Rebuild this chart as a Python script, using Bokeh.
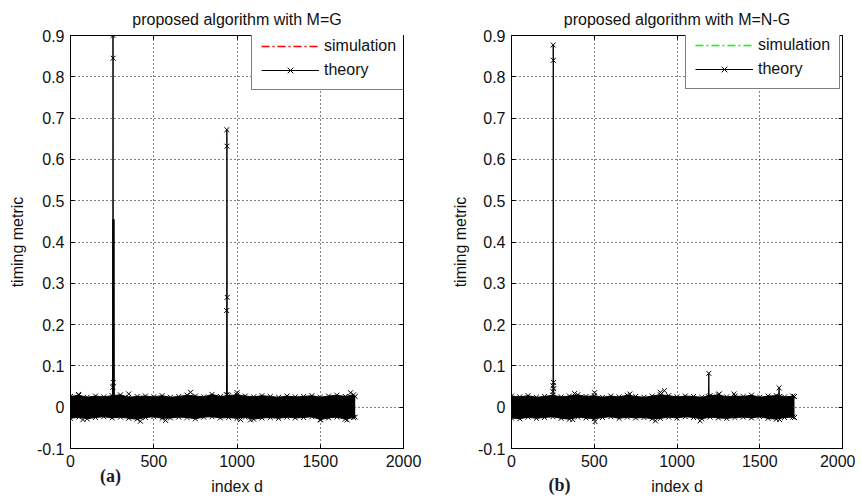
from bokeh.plotting import figure
from bokeh.models import (Range1d, FixedTicker, LinearAxis, Legend, LegendItem,
                          Label, CustomJSTickFormatter)
from bokeh.layouts import row
from bokeh.embed import file_html
from bokeh.resources import INLINE

# ---------------- data ----------------
x_ticks = [0, 500, 1000, 1500, 2000]
y_ticks = [-0.1, 0, 0.1, 0.2, 0.3, 0.4, 0.5, 0.6, 0.7, 0.8, 0.9]

# noise band envelope (sampled along index d)
band_x = [0, 50, 100, 150, 200, 250, 300, 350, 400, 450, 500, 550, 600, 650, 700,
          750, 800, 850, 900, 950, 1000, 1050, 1100, 1150, 1200, 1250, 1300, 1350,
          1400, 1450, 1500, 1550, 1600, 1650, 1700, 1710]

band_a_upper = [0.026, 0.029, 0.024, 0.027, 0.025, 0.028, 0.030, 0.024, 0.026, 0.027,
                0.025, 0.028, 0.024, 0.026, 0.029, 0.027, 0.025, 0.031, 0.026, 0.028,
                0.030, 0.027, 0.025, 0.028, 0.026, 0.024, 0.027, 0.025, 0.026, 0.028,
                0.024, 0.027, 0.029, 0.026, 0.030, 0.026]
band_a_lower = [-0.027, -0.024, -0.028, -0.025, -0.023, -0.026, -0.024, -0.027, -0.029,
                -0.025, -0.023, -0.027, -0.026, -0.024, -0.025, -0.028, -0.024, -0.023,
                -0.026, -0.025, -0.027, -0.024, -0.029, -0.026, -0.025, -0.027, -0.024,
                -0.026, -0.025, -0.023, -0.030, -0.026, -0.024, -0.029, -0.025, -0.024]

band_b_upper = [0.027, 0.025, 0.028, 0.024, 0.026, 0.029, 0.025, 0.027, 0.030, 0.026,
                0.028, 0.024, 0.027, 0.025, 0.029, 0.026, 0.024, 0.027, 0.030, 0.028,
                0.025, 0.027, 0.026, 0.024, 0.028, 0.030, 0.025, 0.027, 0.026, 0.029,
                0.024, 0.027, 0.028, 0.025, 0.027, 0.026]
band_b_lower = [-0.026, -0.028, -0.024, -0.027, -0.025, -0.023, -0.027, -0.029, -0.024,
                -0.026, -0.028, -0.025, -0.023, -0.027, -0.024, -0.026, -0.025, -0.028,
                -0.027, -0.024, -0.026, -0.023, -0.025, -0.028, -0.024, -0.026, -0.027,
                -0.025, -0.024, -0.026, -0.023, -0.027, -0.029, -0.025, -0.024, -0.025]

# isolated markers sticking out of the band
out_a_x = [48, 350, 721, 1001, 1682, 75, 420, 571, 1021, 1081, 1502, 1662]
out_a_y = [0.031, 0.032, 0.036, 0.035, 0.035, -0.030, -0.034, -0.032, -0.030, -0.031, -0.031, -0.031]
out_b_x = [381, 502, 715, 900, 924, 1255, 1345, 370, 505, 870, 1140, 1620]
out_b_y = [0.033, 0.035, 0.032, 0.036, 0.040, 0.032, 0.032, -0.030, -0.035, -0.033, -0.033, -0.030]

# theory peaks (panel a)
theory_a1_x = [253, 254, 255, 256, 257, 258]
theory_a1_y = [0.020, 0.048, 0.900, 0.845, 0.060, 0.020]
theory_a2_x = [937, 938, 939, 940, 941, 942]
theory_a2_y = [0.030, 0.234, 0.672, 0.632, 0.266, 0.030]
# simulation peak (panel a)
sim_a_x = [257, 258, 259]
sim_a_y = [0.020, 0.455, 0.020]

# theory peaks (panel b)
theory_b1_x = [249, 250, 251, 252, 253, 254, 255, 256]
theory_b1_y = [0.020, 0.038, 0.052, 0.877, 0.840, 0.060, 0.045, 0.020]
theory_b2_x = [1190, 1192, 1194]
theory_b2_y = [0.025, 0.082, 0.025]
theory_b3_x = [1615, 1617, 1619]
theory_b3_y = [0.025, 0.047, 0.025]

FONT = "Liberation Sans"
TXT = "#111111"


def make_panel(title, frame_left, frame_w, border_right, band_up, band_lo,
               out_x, out_y, peaks, sim_peak, sim_color, legend_loc, tag, tag_xy, tag_side,
               ylab_standoff):
    p = figure(frame_width=frame_w, frame_height=413,
               min_border_left=frame_left, min_border_right=border_right,
               min_border_top=35, min_border_bottom=43,
               x_range=Range1d(0, 2000), y_range=Range1d(-0.1, 0.9),
               output_backend="svg", toolbar_location=None, title=title)
    p.background_fill_color = "white"
    p.border_fill_color = "white"
    p.outline_line_color = "black"
    p.outline_line_alpha = 1

    p.title.text_font = FONT
    p.title.text_font_size = "16px"
    p.title.text_font_style = "normal"
    p.title.text_color = TXT
    p.title.align = "center"
    p.title.standoff = 16

    fmt = CustomJSTickFormatter(code="return String(Math.round(tick*10)/10);")
    for ax, ticks in ((p.xaxis[0], x_ticks), (p.yaxis[0], y_ticks)):
        ax.ticker = FixedTicker(ticks=ticks)
        ax.major_tick_in = 4
        ax.major_tick_out = 0
        ax.minor_tick_line_color = None
        ax.axis_line_color = "black"
        ax.major_tick_line_color = "black"
        ax.major_label_text_font = FONT
        ax.major_label_text_font_size = "16px"
        ax.major_label_text_color = TXT
        ax.axis_label_text_font = FONT
        ax.axis_label_text_font_size = "16px"
        ax.axis_label_text_font_style = "normal"
        ax.axis_label_text_color = TXT
    p.yaxis[0].formatter = fmt
    p.xaxis[0].axis_label = "index d"
    p.xaxis[0].major_label_standoff = 6
    p.xaxis[0].axis_label_standoff = 8
    p.yaxis[0].axis_label = "timing metric"
    p.yaxis[0].major_label_standoff = 6
    p.yaxis[0].axis_label_standoff = ylab_standoff

    for loc, ticks in (("right", y_ticks), ("above", x_ticks)):
        ax = LinearAxis(ticker=FixedTicker(ticks=ticks), major_tick_in=4, major_tick_out=0,
                        minor_tick_line_color=None, major_label_text_font_size="1px",
                        major_label_text_color=None,
                        major_label_standoff=0, axis_line_color="black")
        p.add_layout(ax, loc)

    for g, ticks in ((p.xgrid[0], x_ticks), (p.ygrid[0], y_ticks)):
        g.ticker = FixedTicker(ticks=ticks)
        g.grid_line_color = "black"
        g.grid_line_dash = "1 3"
        g.grid_line_width = 1

    # noise band (simulated + theoretical metric around zero)
    p.varea(x=band_x, y1=band_lo, y2=band_up, fill_color="black")
    p.line(x=band_x, y=band_up, line_color="black", line_width=1)
    p.line(x=band_x, y=band_lo, line_color="black", line_width=1)
    p.scatter(x=band_x, y=band_up, marker="x", size=7, line_color="black")
    p.scatter(x=band_x, y=band_lo, marker="x", size=7, line_color="black")
    p.scatter(x=out_x, y=out_y, marker="x", size=7, line_color="black")

    # simulation peak (drawn as seen: dark)
    if sim_peak is not None:
        p.line(x=sim_peak[0], y=sim_peak[1], line_color="black", line_width=2.5)

    th_line = th_sc = None
    for px, py in peaks:
        th_line = p.line(x=px, y=py, line_color="black", line_width=1)
        th_sc = p.scatter(x=px, y=py, marker="x", size=7, line_color="black")

    # legend entry for the simulation series (its colour as given in the legend)
    sim_proxy = p.line(x=band_x, y=band_up, line_color=sim_color, line_width=1.3,
                       line_dash="8 3 2 3", visible=False)

    legend = Legend(items=[LegendItem(label="simulation", renderers=[sim_proxy]),
                           LegendItem(label="theory", renderers=[th_line, th_sc])],
                    location=legend_loc)
    legend.label_text_font = FONT
    legend.label_text_font_size = "16px"
    legend.label_text_color = TXT
    legend.glyph_width = 58
    legend.glyph_height = 20
    legend.label_standoff = 5
    legend.label_height = 20
    legend.spacing = 4
    legend.padding = 9
    legend.margin = 0
    legend.border_line_color = "black"
    legend.border_line_width = 1
    legend.background_fill_color = "white"
    legend.background_fill_alpha = 1
    p.add_layout(legend, "center")

    lab = Label(x=tag_xy[0], y=tag_xy[1], x_units="screen", y_units="screen")
    lab.text = tag
    lab.text_font = "Liberation Serif"
    lab.text_font_style = "bold"
    lab.text_font_size = "18px"
    lab.text_color = "#1e1a2e"
    lab.text_align = "center"
    lab.text_baseline = "middle"
    p.add_layout(lab, tag_side)
    return p


p1 = make_panel("proposed algorithm with M=G", 70, 333, 23, band_a_upper, band_a_lower,
                out_a_x, out_a_y, [(theory_a1_x, theory_a1_y), (theory_a2_x, theory_a2_y)],
                (sim_a_x, sim_a_y), "red", (181, 358), "(a)", (-293, -27), "right", 8)
p2 = make_panel("proposed algorithm with M=N-G", 84, 331, 13, band_b_upper, band_b_lower,
                out_b_x, out_b_y, [(theory_b1_x, theory_b1_y), (theory_b2_x, theory_b2_y),
                                   (theory_b3_x, theory_b3_y)],
                None, "#00ff00", (174, 359), "(b)", (133, -36), "left", 6)

layout = row(p1, p2)
open("out.html", "w").write(file_html(layout, INLINE))
